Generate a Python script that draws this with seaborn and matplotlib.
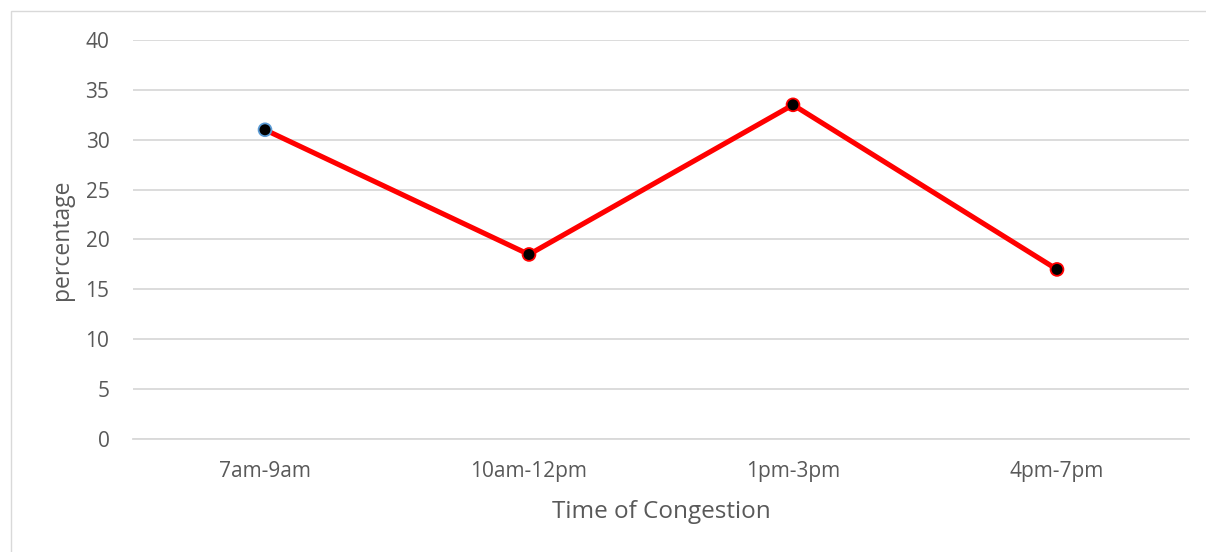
import matplotlib
matplotlib.use("Agg")
import matplotlib.pyplot as plt
from matplotlib.patches import Rectangle
import seaborn as sns
import pandas as pd

# Share of congestion reported in each time window
time_slots = ["7am-9am", "10am-12pm", "1pm-3pm", "4pm-7pm"]
percentages = [31, 18.5, 33.5, 17]
y_ticks = [0, 5, 10, 15, 20, 25, 30, 35, 40]

df = pd.DataFrame({"slot": time_slots, "pct": percentages})
df["pos"] = range(len(df))

sns.set_style("white")
plt.rcParams["font.family"] = ["Open Sans", "DejaVu Sans"]

W, H = 1206, 552
fig = plt.figure(figsize=(W / 100, H / 100), dpi=100)
ax = fig.add_axes([133 / W, 1 - 439 / H, (1189 - 133) / W, (439 - 40) / H])

# Thin frame around the chart area (top and left edges visible)
fig.patches.append(Rectangle((11 / W, -0.1), 1.2, 1.1 - 11 / H, transform=fig.transFigure,
                             fill=False, edgecolor="#d9d9d9", linewidth=1.0))

sns.lineplot(data=df, x="pos", y="pct", ax=ax, color="#ff0000", linewidth=3.7,
             solid_capstyle="round", zorder=3)
edge_colors = ["#5b9bd5"] + ["#ff0000"] * (len(df) - 1)
sns.scatterplot(data=df, x="pos", y="pct", ax=ax, color="black", s=85,
                edgecolor=edge_colors, linewidth=1.3, zorder=4, legend=False)

ax.set_xlim(-0.5, len(df) - 0.5)
ax.set_ylim(0, 40)
ax.set_yticks(y_ticks)
ax.set_xticks(df["pos"])
ax.set_xticklabels(time_slots)
ax.yaxis.grid(True, color="#d9d9d9", linewidth=1.3)
ax.xaxis.grid(False)
for side in ["top", "right", "left"]:
    ax.spines[side].set_visible(False)
ax.spines["bottom"].set_color("#d9d9d9")
ax.spines["bottom"].set_linewidth(1.3)
ax.tick_params(axis="both", length=0, labelsize=15, labelcolor="#595959")
ax.tick_params(axis="y", pad=17)
ax.tick_params(axis="x", pad=16)
ax.set_xlabel("Time of Congestion", fontsize=17.5, color="#595959", labelpad=13)
ax.set_ylabel("percentage", fontsize=16.5, color="#595959", labelpad=8)

fig.savefig("out.png", dpi=100, facecolor="white")
